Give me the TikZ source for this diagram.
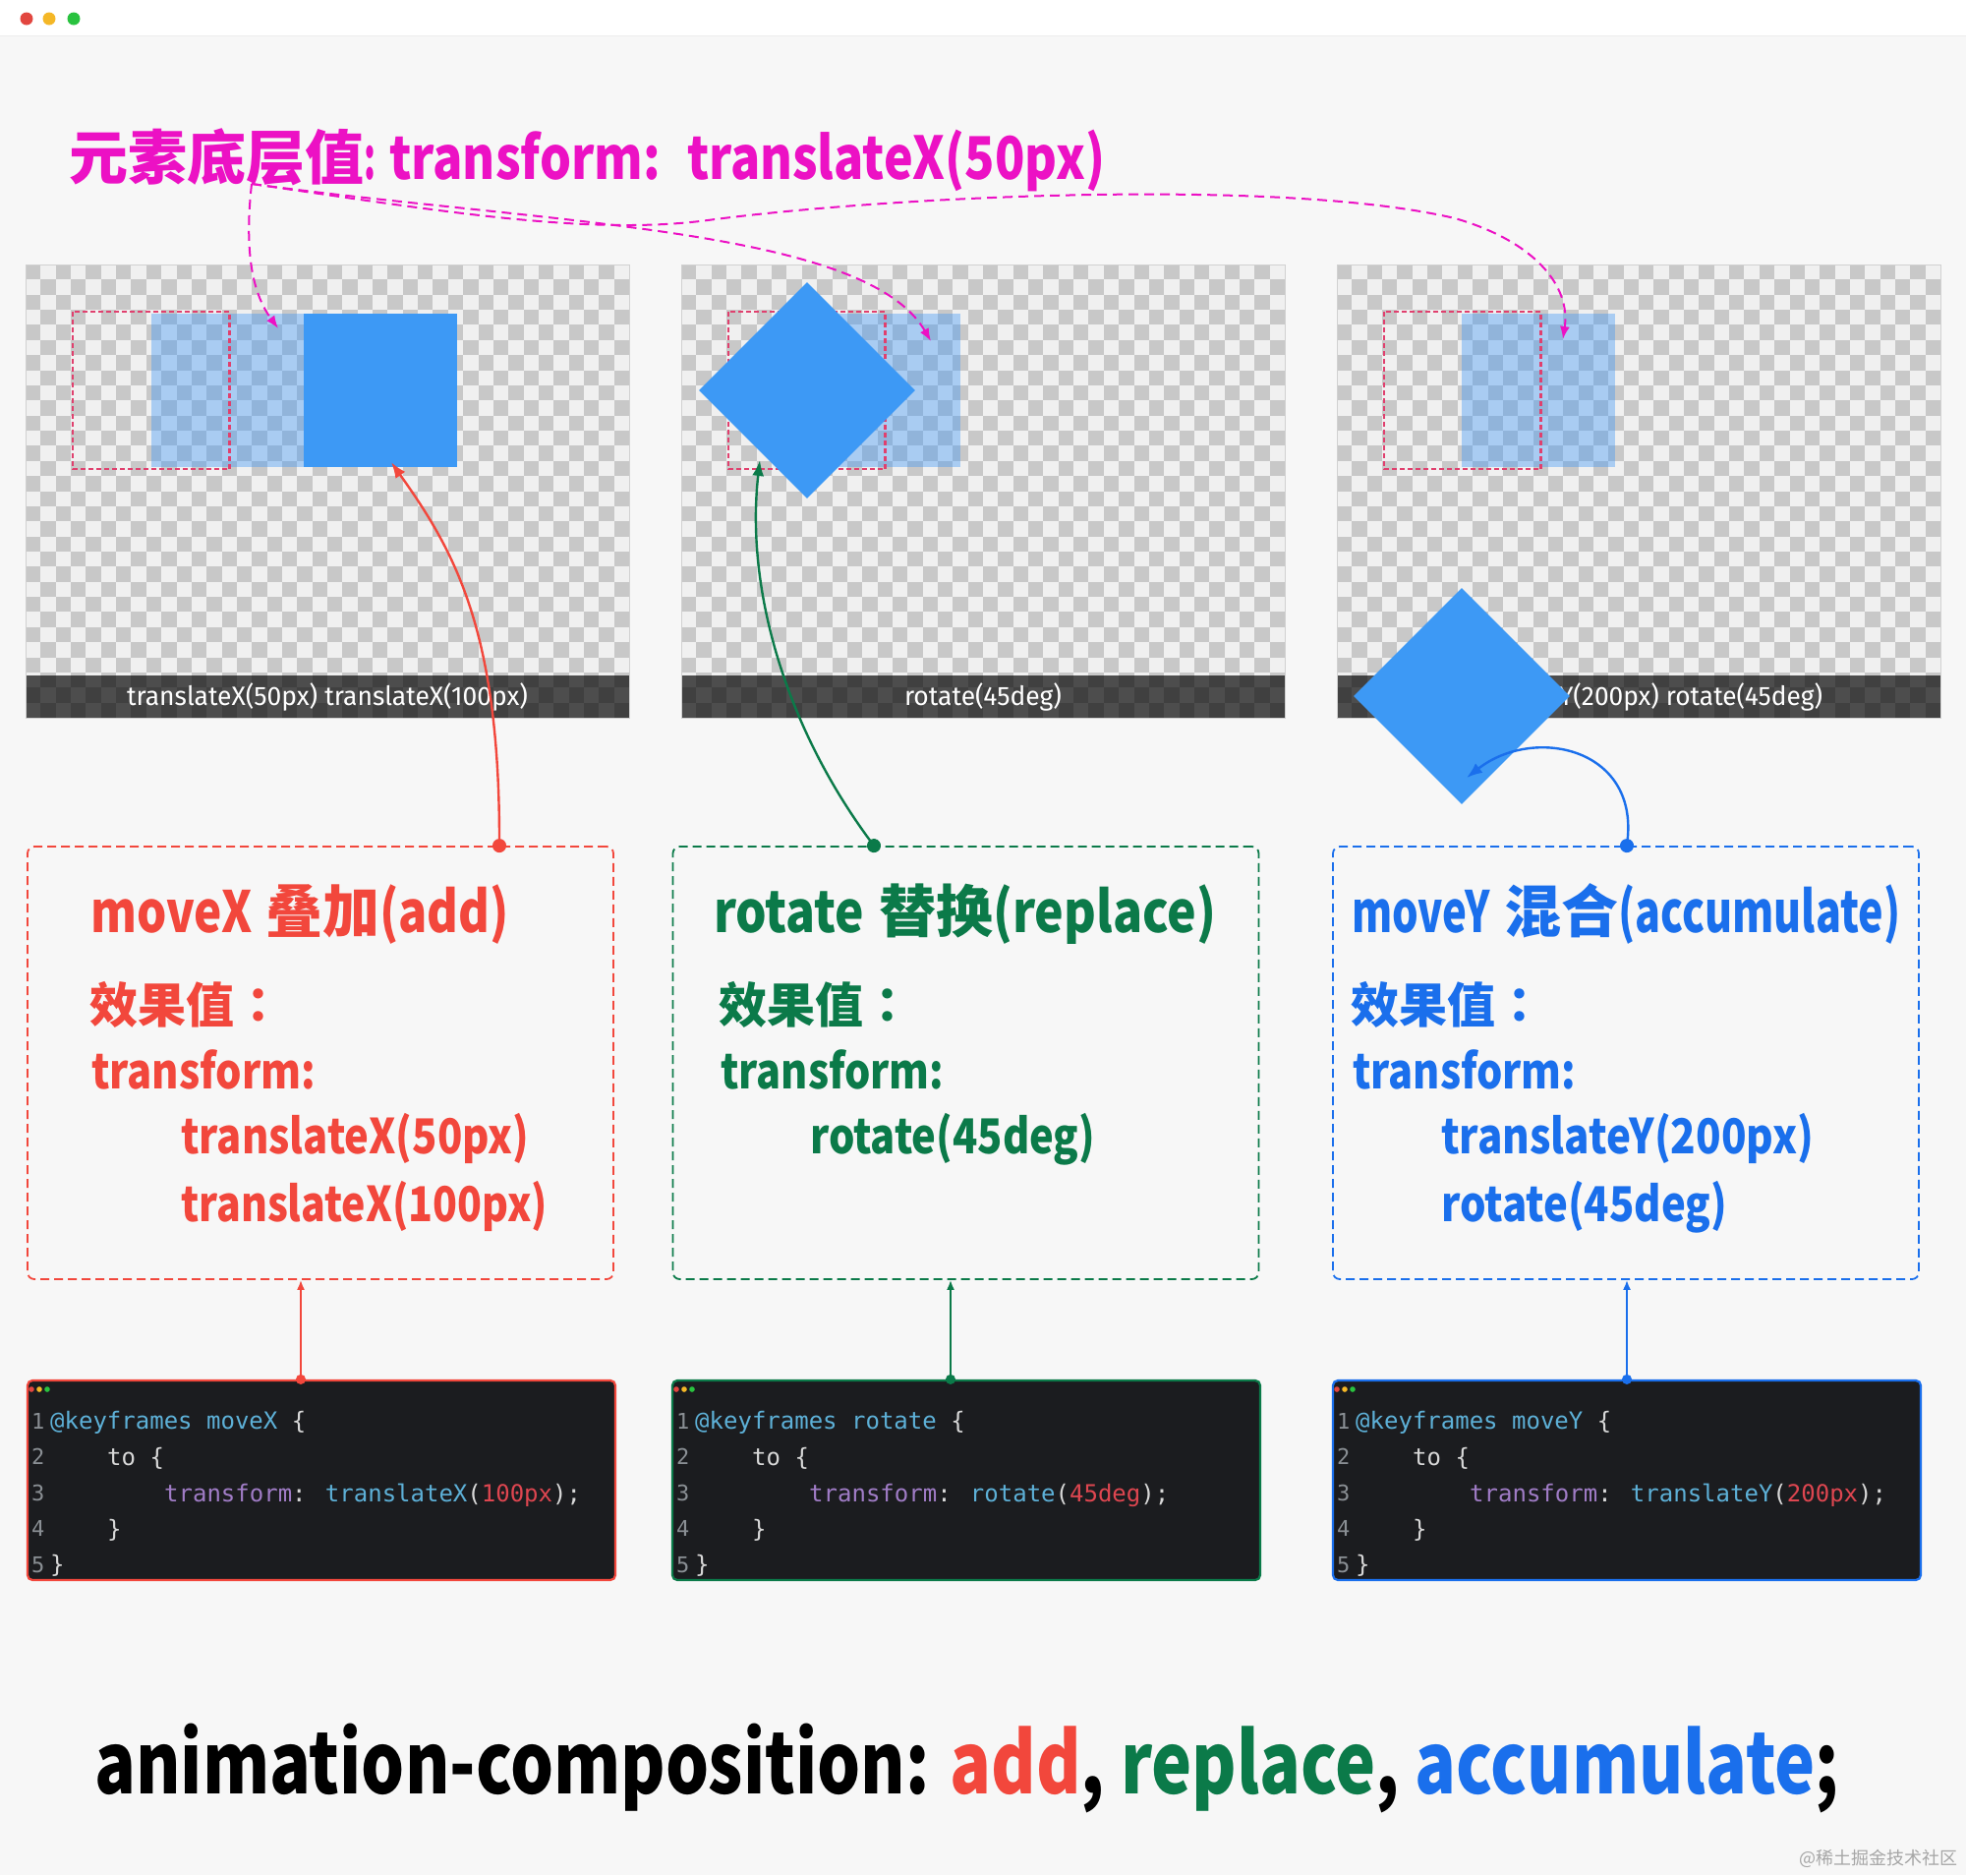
\documentclass[tikz,border=0pt]{standalone}
\usepackage{fontspec}
\usepackage{graphicx}
\setmainfont{Noto Sans CJK SC}
\newfontfamily\jpfont{Noto Sans CJK JP}
\newfontfamily\labelfont{Fira Sans}
\newfontfamily\codefont{DejaVu Sans Mono}
\usetikzlibrary{positioning,arrows.meta,shapes.geometric}

\definecolor{pagebg}{HTML}{F7F7F7}
\definecolor{addred}{HTML}{F2473C}
\definecolor{repgreen}{HTML}{0B7A49}
\definecolor{accblue}{HTML}{1A6FEC}
\definecolor{basepink}{HTML}{EC11C4}
\definecolor{elblue}{HTML}{3D99F5}
\definecolor{ghostblue}{HTML}{4096F5}
\definecolor{origred}{HTML}{E0406E}
\definecolor{chklight}{HTML}{F0F0F0}
\definecolor{chkdark}{HTML}{C8C8C8}
\definecolor{codebg}{HTML}{1B1C1F}
\definecolor{codekw}{HTML}{5DB0D7}
\definecolor{codeprop}{HTML}{A07CC6}
\definecolor{codenum}{HTML}{DE4650}
\definecolor{codetxt}{HTML}{D8D8D8}
\definecolor{codeln}{HTML}{8A8F94}
\definecolor{winred}{HTML}{E2463F}
\definecolor{winyellow}{HTML}{F4B727}
\definecolor{wingreen}{HTML}{29C23F}

\newcommand\fitw[2]{\resizebox{#1pt}{\height}{#2}}
\newcommand\cdkw[1]{\textcolor{codekw}{#1}}
\newcommand\cdprop[1]{\textcolor{codeprop}{#1}}
\newcommand\cdnum[1]{\textcolor{codenum}{#1}}
\newcommand\effval{效果值{\jpfont ：}}

\begin{document}
\begin{tikzpicture}[x=1pt, y=-1pt,
  panel/.style={draw=black!18, line width=1pt},
  origbox/.style={draw=origred, line width=2.2pt, dash pattern=on 5pt off 3pt},
  ghost/.style={fill=ghostblue, fill opacity=0.4, minimum size=156pt, inner sep=0pt},
  elem/.style={fill=elblue, minimum size=156pt, inner sep=0pt},
  elemrot/.style={diamond, fill=elblue, minimum width=220pt, minimum height=220pt, inner sep=0pt},
  panellbl/.style={anchor=base, inner sep=0pt, text=white, font=\labelfont\fontsize{27}{27}\selectfont},
  effbox/.style={draw=#1, line width=1.8pt, dash pattern=on 9pt off 5pt, rounded corners=7pt, minimum width=596pt, minimum height=440pt},
  effttl/.style={anchor=base west, inner sep=0pt, text=#1, font=\fontsize{58}{58}\selectfont\bfseries},
  efftxt/.style={anchor=base west, inner sep=0pt, text=#1, font=\fontsize{49}{49}\selectfont\bfseries},
  codebox/.style={draw=#1, fill=codebg, line width=2.2pt, rounded corners=5pt, minimum width=598pt, minimum height=203pt},
  codeline/.style={anchor=base west, inner sep=0pt, text=codetxt, font=\codefont\fontsize{24}{24}\selectfont},
  lineno/.style={anchor=base west, inner sep=0pt, text=codeln, font=\codefont\fontsize{22}{22}\selectfont},
  link/.style={draw=#1, line width=2.4pt, shorten <=-7pt, {Circle[length=14pt]}-{Latex[length=16pt,width=12pt]}},
  uplink/.style={draw=#1, line width=1.8pt, shorten <=-5pt, {Circle[length=10pt]}-{Latex[length=10pt,width=8pt]}},
  baselink/.style={draw=basepink, line width=2pt, dash pattern=on 10pt off 6pt, -{Latex[length=13pt,width=10pt]}}]
\useasboundingbox (0,0) rectangle (2000,1907);
% window
\fill[white] (0,0) rectangle (2000,1907);
\fill[pagebg] (0,36) rectangle (2000,1907);
\draw[black!7, line width=1pt] (0,36) -- (2000,36);
\fill[winred] (27,19) circle (6.5);
\fill[winyellow] (50,19) circle (6.5);
\fill[wingreen] (75,19) circle (6.5);

% title
\node[anchor=base west, inner sep=0pt, text=basepink, font=\fontsize{60}{60}\selectfont\bfseries] (basettl) at (70,182)
  {元素底层值\fitw{12}{:}\hspace{14pt}\fitw{276}{transform:}\hspace{27pt}\fitw{425}{translateX(50px)}};
\coordinate (tsrc) at (256,187);

% checker panels
\foreach \px in {26,693,1360}{
  \fill[chklight] (\px,269) rectangle ++(614,461);
  \foreach \r in {0,...,29}{
    \foreach \c in {0,...,39}{
      \pgfmathtruncatemacro\odd{mod(\r+\c,2)}
      \ifnum\odd=0 \fill[chkdark] ({\px+\c*15.35},{269+\r*15.367}) rectangle ++(15.35,15.367);\fi
    }
  }
  \fill[black, opacity=0.68] (\px,687) rectangle ++(614,43);
  \draw[panel] (\px,269) rectangle ++(614,461);
}
\node[panellbl] (lblA) at (333,717) {\fitw{408}{translateX(50px) translateX(100px)}};
\node[panellbl] (lblB) at (1000,717) {\fitw{160}{rotate(45deg)}};
\node[panellbl] (lblC) at (1667,717) {\fitw{374}{translateY(200px) rotate(45deg)}};

% base value ghosts and original position
\node[ghost] (ghA) at (232,397) {};
\node[ghost] (ghB) at (899,397) {};
\node[ghost] (ghC) at (1565,397) {};
\foreach \px in {26,693,1360}
  \draw[origbox] (\px+48,317) rectangle ++(159.5,160);

% effect values
\node[elem] (elA) at (387,397) {};
\node[elemrot] (rotB) at (821,397) {};
\node[elemrot] (rotC) at (1487,708) {};

% composition boxes
\node[effbox=addred] (effA) at (326,1081) {};
\node[effbox=repgreen] (effB) at (982.5,1081) {};
\node[effbox=accblue] (effC) at (1654,1081) {};

\node[effttl=addred] at (92,948) {\fitw{165}{moveX}\hspace{13pt}叠加\fitw{132}{(add)}};
\node[efftxt=addred] at (91,1040) {\effval};
\node[efftxt=addred] at (93,1107) {\fitw{228}{transform:}};
\node[efftxt=addred] at (184,1173) {\fitw{354}{translateX(50px)}};
\node[efftxt=addred] at (184,1242) {\fitw{373}{translateX(100px)}};

\node[effttl=repgreen] at (726,948) {\fitw{153}{rotate}\hspace{15pt}替换\fitw{227}{(replace)}};
\node[efftxt=repgreen] at (731,1040) {\effval};
\node[efftxt=repgreen] at (733,1107) {\fitw{227}{transform:}};
\node[efftxt=repgreen] at (824,1173) {\fitw{290}{rotate(45deg)}};

\node[effttl=accblue] at (1375,948) {\fitw{141}{moveY}\hspace{14pt}混合\fitw{287}{(accumulate)}};
\node[efftxt=accblue] at (1374,1040) {\effval};
\node[efftxt=accblue] at (1376,1107) {\fitw{227}{transform:}};
\node[efftxt=accblue] at (1466,1173) {\fitw{379}{translateY(200px)}};
\node[efftxt=accblue] at (1466,1242) {\fitw{291}{rotate(45deg)}};

% keyframes code
\node[codebox=addred] (codeA) at (327,1505.5) {};
\node[codebox=repgreen] (codeB) at (983,1505.5) {};
\node[codebox=accblue] (codeC) at (1655,1505.5) {};
\foreach \cx/\cname/\cfn/\cval in {28/moveX/translateX/100px, 684/rotate/rotate/45deg, 1356/moveY/translateY/200px}{
  \fill[winred] ({\cx+4},1413) circle (2.8);
  \fill[winyellow] ({\cx+12},1413) circle (2.8);
  \fill[wingreen] ({\cx+20},1413) circle (2.8);
  \foreach \n [count=\k from 0] in {1,...,5}
    \node[lineno] at ({\cx+4},{1453+36.5*\k}) {\n};
  \node[codeline] at ({\cx+23},1453) {\cdkw{@keyframes \cname} \{};
  \node[codeline] at ({\cx+81},1490) {to \{};
  \node[codeline] at ({\cx+139},1527) {\cdprop{transform}: \cdkw{\cfn}(\cdnum{\cval});};
  \node[codeline] at ({\cx+81},1563) {\}};
  \node[codeline] at ({\cx+23},1599) {\}};
}

% connectors
\draw[uplink=addred] ([xshift=-21pt]codeA.north) -- ([xshift=-20pt]effA.south);
\draw[uplink=repgreen] ([xshift=-16pt]codeB.north) -- ([xshift=-15.5pt]effB.south);
\draw[uplink=accblue] (codeC.north) -- ([xshift=1pt]effC.south);

\draw[link=addred] ([xshift=182pt]effA.north) .. controls (508,640) and (462,560) .. ([xshift=11pt,yshift=5pt]elA.south);
\draw[link=repgreen] ([xshift=-93.5pt]effB.north) .. controls (800,740) and (758,600) .. ([xshift=-48pt,yshift=-71pt]rotB.center);
\draw[link=accblue] ([xshift=1pt]effC.north) .. controls (1666,760) and (1560,738) .. ([xshift=5pt,yshift=-83pt]rotC.center);

\draw[baselink] (tsrc) .. controls (248,260) and (258,300) .. ([xshift=51pt,yshift=63pt]ghA.center);
\draw[baselink] (tsrc) .. controls (560,228) and (880,232) .. ([xshift=48pt,yshift=50pt]ghB.center);
\draw[baselink] (tsrc) .. controls (450,215) and (600,240) .. (720,224)
  .. controls (900,200) and (1300,180) .. (1480,222)
  .. controls (1560,245) and (1598,290) .. ([xshift=25pt,yshift=52pt]ghC.center);

% summary line
\node[anchor=base west, inner sep=0pt, font=\fontsize{86}{86}\selectfont\bfseries] (summary) at (96,1824)
  {\fitw{1775}{animation-composition: \textcolor{addred}{add}, \textcolor{repgreen}{replace}, \textcolor{accblue}{accumulate};}};
\node[anchor=base east, inner sep=0pt, text=black!35, font=\fontsize{18}{18}\selectfont] (mark) at (1992,1896) {@稀土掘金技术社区};
\end{tikzpicture}
\end{document}
